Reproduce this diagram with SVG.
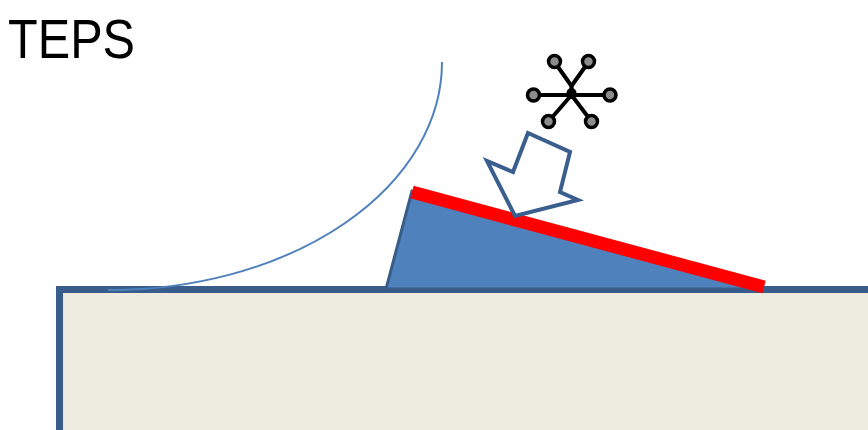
<svg xmlns="http://www.w3.org/2000/svg" width="868" height="430" viewBox="0 0 868 430">
  <style>
    .title { font-family: "Liberation Sans", Arial, sans-serif; font-size: 56px; fill: #000; }
    .ground { fill: #EEECE1; stroke: #385D8A; stroke-width: 7; }
    .plume { fill: none; stroke: #4F81BD; stroke-width: 2; }
    .wedge { fill: #4F81BD; stroke: #385D8A; stroke-width: 3; stroke-linejoin: miter; }
    .film { stroke: #FF0000; stroke-width: 13; stroke-linecap: butt; }
    .flux { fill: #FFFFFF; stroke: #3A5F8E; stroke-width: 4; stroke-linejoin: miter; }
    .bond { stroke: #000; stroke-width: 4; stroke-linecap: round; fill: none; }
    .atom { fill: #8C8C8C; stroke: #000; stroke-width: 3.5; }
  </style>

  <text class="title" x="8" y="58" textLength="127" lengthAdjust="spacingAndGlyphs">TEPS</text>

  <!-- substrate block -->
  <g id="substrate">
    <rect class="ground" x="59.5" y="289.5" width="900" height="200"/>
  </g>

  <!-- elliptical boundary line -->
  <g id="boundary">
    <path class="plume" d="M 442 62 A 332 228 0 0 1 108 290"/>
  </g>

  <!-- inclined wedge with red coated face -->
  <g id="wedge">
    <polygon class="wedge" points="412,191 386,289 760,289"/>
    <line class="film" x1="412" y1="192" x2="764" y2="287"/>
  </g>

  <!-- hollow arrow onto the coated face -->
  <g id="arrow">
    <polygon class="flux" points="528,133 570,152 560,192 578,200 515,216 487,161 513,172"/>
  </g>

  <!-- molecule -->
  <g id="molecule">
    <line class="bond" x1="554.5" y1="62" x2="571.5" y2="86"/>
    <line class="bond" x1="588.5" y1="62" x2="571.5" y2="86"/>
    <line class="bond" x1="571.5" y1="86" x2="571.5" y2="97"/>
    <line class="bond" x1="533.5" y1="95" x2="610" y2="95"/>
    <line class="bond" x1="571.5" y1="95" x2="548.5" y2="121.5"/>
    <line class="bond" x1="571.5" y1="95" x2="591.5" y2="121.5"/>
    <circle cx="571.5" cy="93" r="5" fill="#000"/>
    <circle class="atom" cx="554.5" cy="61.5" r="6"/>
    <circle class="atom" cx="588.5" cy="61.5" r="6"/>
    <circle class="atom" cx="533.5" cy="95" r="6"/>
    <circle class="atom" cx="610" cy="95" r="6"/>
    <circle class="atom" cx="548.5" cy="121.5" r="6"/>
    <circle class="atom" cx="591.5" cy="121.5" r="6"/>
  </g>
</svg>
